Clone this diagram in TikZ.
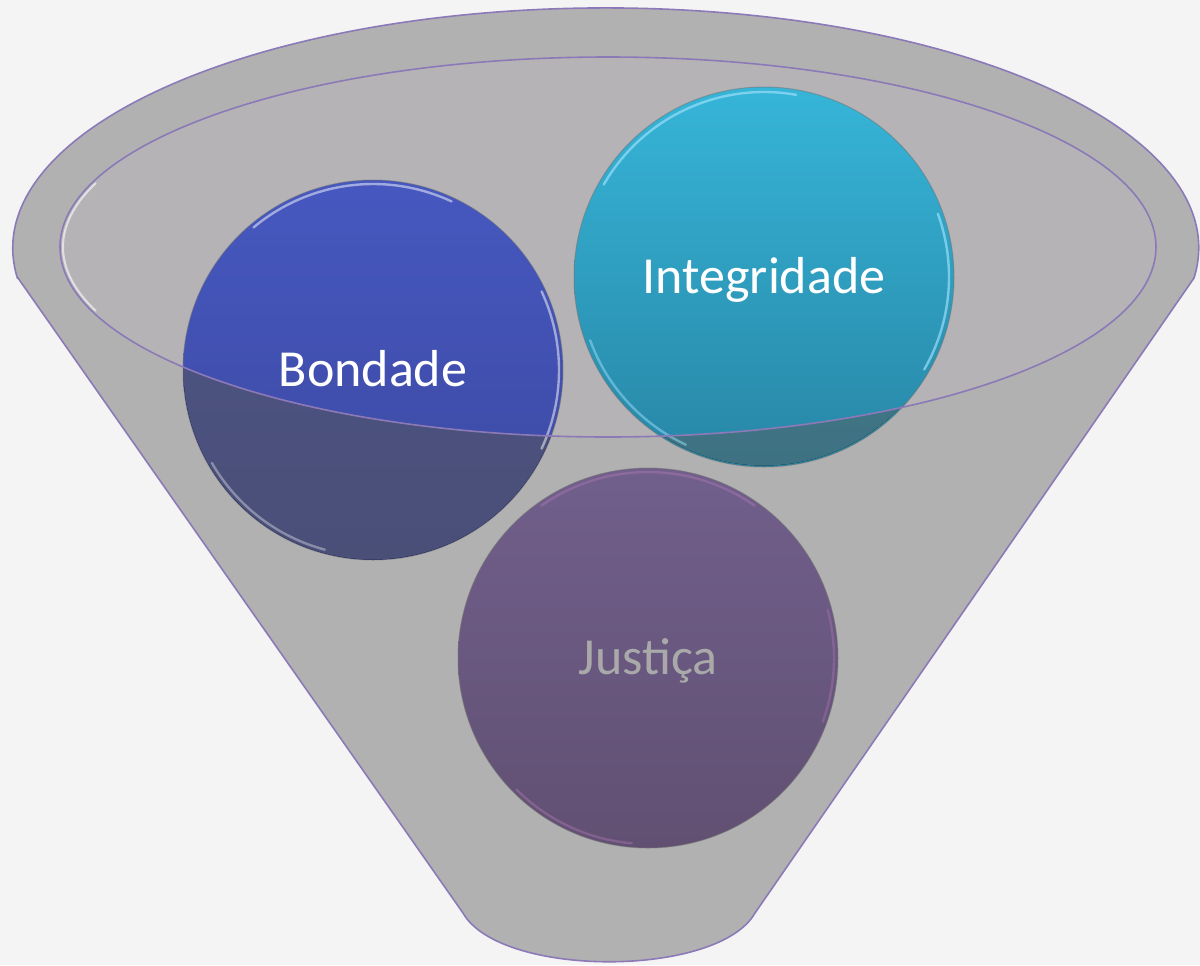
\documentclass[tikz,border=0pt]{standalone}
\usepackage{fontspec}
\setmainfont{Carlito}
\definecolor{bgc}{HTML}{F4F4F4}
\definecolor{rimc}{HTML}{B1B1B1}
\definecolor{innerc}{HTML}{B5B3B6}
\definecolor{edgec}{HTML}{8C7AB8}
\definecolor{bondtop}{HTML}{4658C0}
\definecolor{bondbot}{HTML}{3C48A0}
\definecolor{bondlt}{HTML}{4F578A}
\definecolor{bondlb}{HTML}{4A4F78}
\definecolor{inttop}{HTML}{36B5D8}
\definecolor{intbot}{HTML}{2886A6}
\definecolor{intlt}{HTML}{48818F}
\definecolor{intlb}{HTML}{3E7282}
\definecolor{justop}{HTML}{715F8C}
\definecolor{jusbot}{HTML}{615072}
\definecolor{justxt}{HTML}{A9A9A9}
\tikzset{
  funnelshape/.style={fill=rimc, draw=edgec, line width=0.8pt},
  ball/.style={circle, minimum size=190pt, inner sep=0pt, draw=black!55, draw opacity=0.5, line width=0.5pt, font=\fontsize{26}{30}\selectfont},
  gloss/.style={white, opacity=0.5, line width=1.2pt, line cap=round},
}
\begin{document}
\begin{tikzpicture}[x=0.5pt, y=-0.5pt]
\useasboundingbox (0,0) rectangle (1200,965);
\fill[bgc] (0,0) rectangle (1200,965);
% funnel body with outer rim
\draw[funnelshape] (18,278) -- (463,913) .. controls (500,978) and (718,978) .. (755,913)
  -- (1194,278) arc[start angle=7.2, end angle=-187.2, x radius=593, y radius=240] -- cycle;
% inner opening
\fill[innerc] (608,247) ellipse [x radius=548, y radius=190];
\draw[white, opacity=0.6, line width=1pt] (608,247) ++(160:545 and 187) arc[start angle=160, end angle=200, x radius=545, y radius=187];
% circles
\node[ball, top color=bondtop, bottom color=bondbot, text=white] (bond) at (373,370) {};
\node[ball, top color=inttop, bottom color=intbot, text=white] (integ) at (764,277) {};
\node[ball, top color=justop, bottom color=jusbot] (just) at (648,658) {};
% muted lower parts of the upper circles (seen through the funnel front)
\begin{scope}
  \clip (bond.center) circle (189.5);
  \fill[even odd rule, top color=bondlt, bottom color=bondlb] (183,180) rectangle (563,560) (608,247) ellipse [x radius=548, y radius=190];
\end{scope}
\begin{scope}
  \clip (integ.center) circle (188.5);
  \fill[even odd rule, top color=intlt, bottom color=intlb] (575,88) rectangle (953,466) (608,247) ellipse [x radius=548, y radius=190];
\end{scope}
% gloss highlights
\draw[gloss] (bond.center) ++(-130:186) arc[start angle=-130, end angle=-65, radius=186];
\draw[gloss] (bond.center) ++(-25:186) arc[start angle=-25, end angle=25, radius=186];
\draw[gloss, opacity=0.35] (bond.center) ++(105:186) arc[start angle=105, end angle=150, radius=186];
\draw[gloss, white!60!cyan, opacity=0.7] (integ.center) ++(-150:185) arc[start angle=-150, end angle=-80, radius=185];
\draw[gloss, white!60!cyan, opacity=0.7] (integ.center) ++(-20:185) arc[start angle=-20, end angle=30, radius=185];
\draw[gloss, white!60!cyan, opacity=0.5] (integ.center) ++(115:185) arc[start angle=115, end angle=160, radius=185];
\draw[gloss, white!50!violet, opacity=0.35] (just.center) ++(-125:186) arc[start angle=-125, end angle=-55, radius=186];
\draw[gloss, white!50!violet, opacity=0.35] (just.center) ++(95:186) arc[start angle=95, end angle=135, radius=186];
\draw[gloss, white!50!violet, opacity=0.3] (just.center) ++(-15:186) arc[start angle=-15, end angle=20, radius=186];
% labels
\node[anchor=base, text=white, font=\fontsize{26}{30}\selectfont] (tbond) at ([yshift=-8pt]bond.center) {Bondade};
\node[anchor=base, text=white, font=\fontsize{26}{30}\selectfont] (tinteg) at ([yshift=-8pt]integ.center) {Integridade};
\node[anchor=base, text=justxt, font=\fontsize{26}{30}\selectfont] (tjust) at ([yshift=-8pt]just.center) {Justiça};
% rim of the opening, drawn over the circles
\draw[edgec, line width=0.8pt] (608,247) ellipse [x radius=548, y radius=190];
\end{tikzpicture}
\end{document}
